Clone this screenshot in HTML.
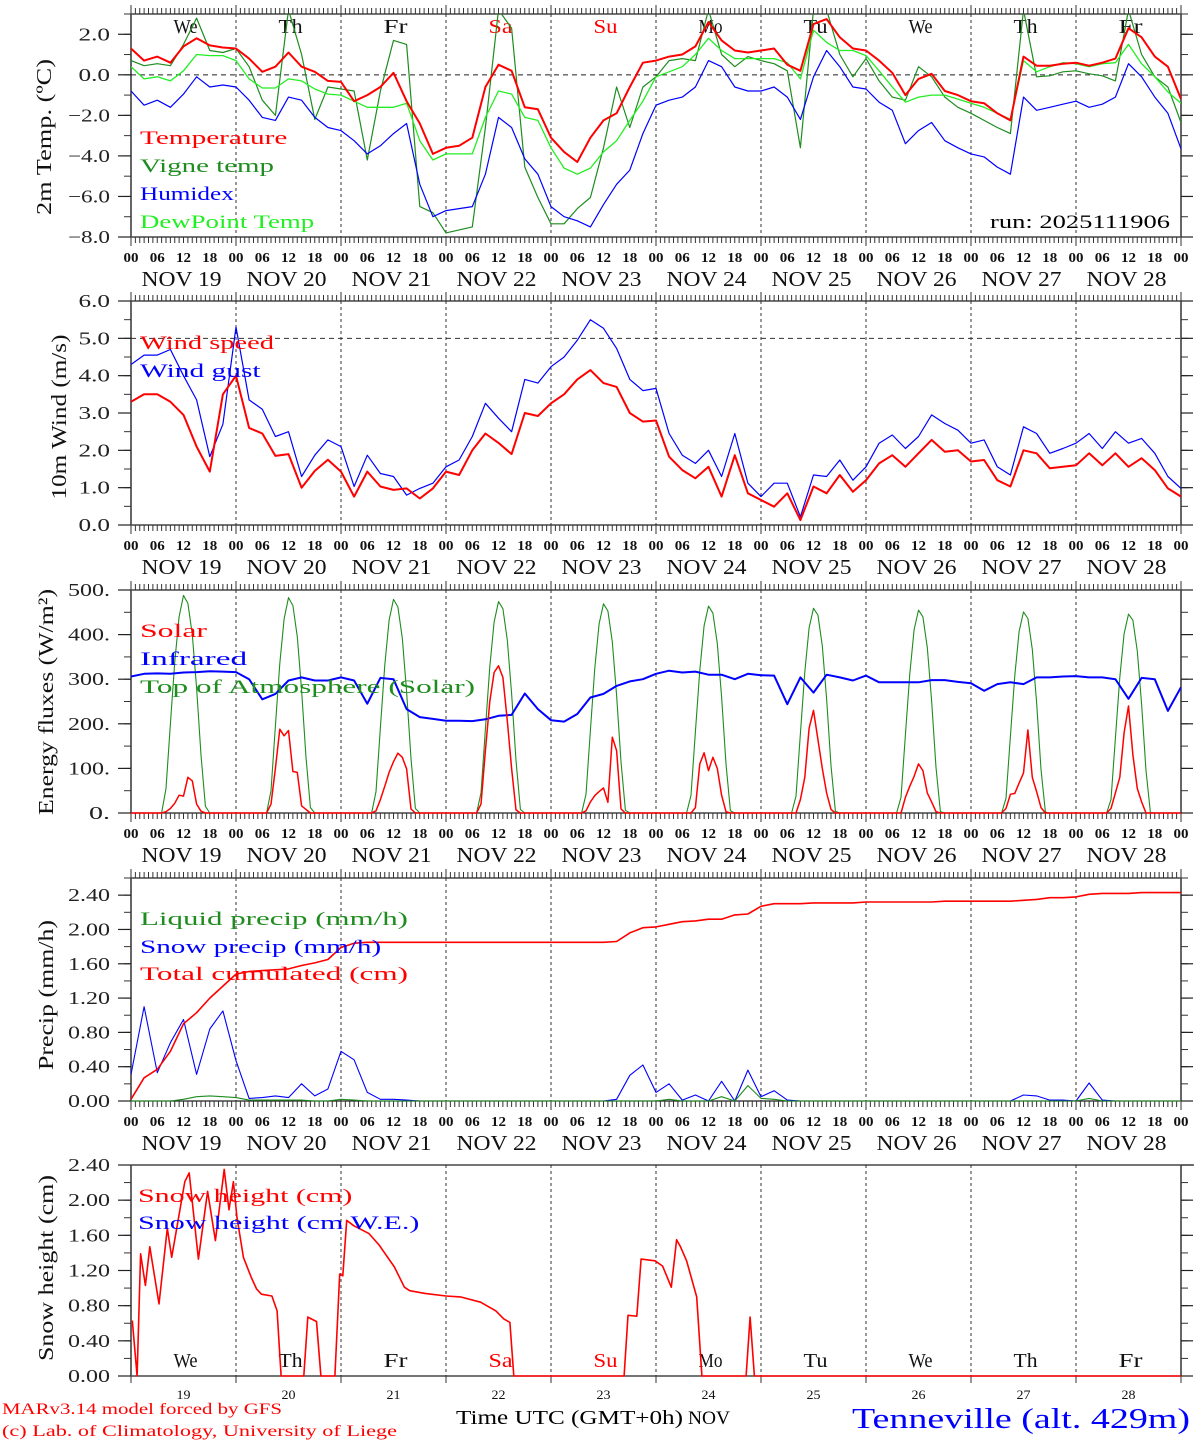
<!DOCTYPE html>
<html><head><meta charset="utf-8"><title>MAR forecast Tenneville</title>
<style>
html,body{margin:0;padding:0;background:#fff;}
svg{display:block;font-family:"Liberation Serif","DejaVu Serif",serif;}
</style></head>
<body>
<svg id="chart" xmlns="http://www.w3.org/2000/svg" width="1194" height="1440" viewBox="0 0 1194 1440">
<rect x="0" y="0" width="1194" height="1440" fill="#fff"/>
<text x="2" y="1414" font-size="16" fill="#ff0000" textLength="280" lengthAdjust="spacingAndGlyphs">MARv3.14 model forced by GFS</text>
<text x="2" y="1436" font-size="16" fill="#ff0000" textLength="395" lengthAdjust="spacingAndGlyphs">(c) Lab. of Climatology, University of Liege</text>
<text x="456" y="1424" font-size="20" fill="#000" textLength="227" lengthAdjust="spacingAndGlyphs">Time UTC (GMT+0h)</text>
<text x="688" y="1424" font-size="19" fill="#000" textLength="42" lengthAdjust="spacingAndGlyphs">NOV</text>
<text x="852" y="1428" font-size="28" fill="#0000ff" textLength="338" lengthAdjust="spacingAndGlyphs">Tenneville (alt. 429m)</text>
<text x="1170" y="228" font-size="19" fill="#000" text-anchor="end" textLength="180" lengthAdjust="spacingAndGlyphs">run: 2025111906</text>
</svg>
<script>
// ---------- DATA (3-hourly, index i -> hour 3*i from NOV 19 00UTC) ----------
const dayNames = ["We","Th","Fr","Sa","Su","Mo","Tu","We","Th","Fr"];
const dayNums = ["19","20","21","22","23","24","25","26","27","28"];
const tempTickVals = [-8,-6,-4,-2,0,2];
const tempTickLabels = ["\u22128.0","\u22126.0","\u22124.0","\u22122.0","0.0","2.0"];
const windTickVals = [0,1,2,3,4,5,6];
const windTickLabels = ["0.0","1.0","2.0","3.0","4.0","5.0","6.0"];
const energyTickVals = [0,100,200,300,400,500];
const energyTickLabels = ["0.","100.","200.","300.","400.","500."];
const precipTickVals = [0,0.4,0.8,1.2,1.6,2.0,2.4];
const precipTickLabels = ["0.00","0.40","0.80","1.20","1.60","2.00","2.40"];
const snowTickVals = [0,0.4,0.8,1.2,1.6,2.0,2.4];
const snowTickLabels = ["0.00","0.40","0.80","1.20","1.60","2.00","2.40"];

const temperature = [1.3,0.7,0.9,0.6,1.4,1.8,1.45,1.35, 1.3,0.8,0.15,0.4,1.1,0.4,0.15,-0.3, -0.35,-1.3,-1.0,-0.6,0.1,-1.3,-2.4,-3.9, -3.6,-3.5,-3.1,-0.6,0.5,0.2,-1.6,-1.7, -3.1,-3.8,-4.3,-3.1,-2.25,-1.9,-0.6,0.6, 0.7,0.9,1.0,1.4,2.6,1.7,1.2,1.1, 1.2,1.3,0.5,0.2,2.5,2.75,1.85,1.3, 1.2,0.7,0.1,-1.0,-0.2,0.05,-0.8,-1.0, -1.3,-1.4,-1.9,-2.25,0.9,0.45,0.45,0.55, 0.6,0.45,0.6,0.8,2.3,1.85,0.9,0.4, -1.2];
const vigneTemp = [0.7,0.45,0.55,0.45,1.5,2.8,1.2,1.1, 1.3,0.4,-1.25,-2.0,3.2,1.0,-2.2,-0.6, -0.7,-0.8,-4.2,-0.8,1.7,1.5,-6.5,-6.8, -7.8,-7.65,-7.5,-2.6,3.2,2.3,-4.55,-6.05, -7.35,-7.35,-6.6,-6.05,-3.6,-0.6,-2.6,-0.6, -0.1,0.7,0.8,0.7,3.2,1.0,0.4,0.9, 0.7,0.55,0.2,-3.6,3.2,3.2,1.0,-0.1, 0.8,-0.3,-1.1,-1.25,0.4,-0.1,-1.1,-1.6, -1.9,-2.25,-2.6,-2.9,3.2,-0.1,-0.05,0.15, 0.2,0.05,-0.05,-0.3,3.2,1.0,-0.1,-0.6, -2.35];
const humidex = [-0.8,-1.5,-1.25,-1.6,-0.95,-0.1,-0.6,-0.5, -0.6,-1.25,-2.1,-2.25,-1.1,-1.25,-2.1,-2.6, -2.75,-3.25,-3.9,-3.5,-2.9,-2.4,-5.4,-7.0, -6.7,-6.6,-6.5,-4.9,-2.1,-2.6,-4.15,-4.9, -6.5,-7.0,-7.2,-7.5,-6.4,-5.4,-4.7,-2.9, -1.5,-1.25,-1.1,-0.6,0.7,0.4,-0.6,-0.8, -0.8,-0.6,-1.1,-2.2,-0.1,1.2,0.4,-0.6, -0.7,-1.35,-1.75,-3.4,-2.75,-2.35,-3.25,-3.6, -3.9,-4.05,-4.55,-4.9,-1.1,-1.75,-1.6,-1.45, -1.3,-1.6,-1.45,-1.1,0.55,-0.1,-1.1,-1.9, -3.65];
const dewPoint = [0.4,-0.2,-0.1,-0.3,0.2,1.0,0.95,0.95, 0.7,-0.2,-0.65,-0.65,-0.2,-0.3,-0.7,-0.95, -1.0,-1.3,-1.6,-1.6,-1.6,-1.4,-3.25,-4.2, -3.9,-3.9,-3.9,-2.1,-0.8,-0.95,-2.1,-2.25, -3.6,-4.6,-4.9,-4.6,-3.8,-3.25,-2.25,-1.3, -0.1,0.15,0.4,1.0,1.8,1.2,0.8,0.8, 0.8,0.8,0.6,-0.2,2.2,1.6,1.2,1.2, 0.95,0.2,-0.6,-1.35,-1.1,-1.0,-1.0,-1.2, -1.4,-1.6,-1.9,-2.2,0.7,0.15,0.4,0.6, 0.55,0.4,0.55,0.6,1.5,0.55,-0.1,-0.85, -1.4];

const windSpeed = [3.3,3.5,3.5,3.3,2.95,2.1,1.43,3.5, 4.0,2.6,2.45,1.85,1.9,1.0,1.45,1.75, 1.43,0.76,1.43,1.03,0.94,0.98,0.71,0.98, 1.43,1.34,2.0,2.45,2.2,1.9,3.0,2.92, 3.26,3.5,3.9,4.15,3.8,3.7,3.0,2.77, 2.8,1.83,1.47,1.25,1.56,0.76,1.87,0.85, 0.67,0.49,0.85,0.13,1.03,0.85,1.34,0.89, 1.2,1.65,1.87,1.56,1.92,2.28,1.96,2.0, 1.7,1.74,1.2,1.03,2.0,1.92,1.52,1.56, 1.6,1.92,1.6,1.92,1.56,1.79,1.47,0.98, 0.76];
const windGust = [4.3,4.55,4.55,4.7,4.0,3.35,1.83,2.7, 5.3,3.35,3.1,2.37,2.5,1.3,1.87,2.28, 2.1,1.03,1.87,1.38,1.3,0.8,0.98,1.12, 1.56,1.74,2.37,3.26,2.86,2.5,3.9,3.8, 4.24,4.5,4.95,5.5,5.27,4.73,3.9,3.6, 3.66,2.45,1.87,1.65,2.0,1.3,2.45,1.12, 0.76,1.12,1.12,0.22,1.34,1.3,1.74,1.2, 1.56,2.19,2.41,2.05,2.37,2.95,2.72,2.54, 2.19,2.28,1.56,1.34,2.63,2.45,1.92,2.05, 2.19,2.45,2.05,2.5,2.19,2.32,1.92,1.3, 0.98];

const infrared = [306,312,313,312,315,316,318,317, 316,300,255,267,297,304,297,297, 304,297,245,303,300,233,215,211, 207,207,206,210,218,220,268,233, 208,205,222,259,267,285,295,300, 312,319,315,317,310,310,300,312, 309,308,244,304,270,310,304,297, 308,293,293,293,293,298,298,294, 291,274,289,293,289,304,304,306, 307,304,304,300,256,303,300,229, 282];
// hourly daytime values, hours 06..18 for each day
const solarDay = [
 [0,0,3,10,22,40,38,80,72,20,4,0,0],
 [0,0,20,100,188,173,185,93,91,16,8,0,0],
 [0,0,5,30,60,91,115,134,125,99,9,0,0],
 [0,0,20,140,250,315,330,304,207,100,7,0,0],
 [0,0,5,25,39,48,56,24,170,140,9,0,0],
 [0,0,0,12,110,135,95,125,100,40,3,0,0],
 [0,0,0,30,80,190,230,165,100,45,8,0,0],
 [0,0,0,35,60,82,110,95,45,25,3,0,0],
 [0,0,10,42,44,67,90,186,80,48,12,0,0],
 [0,0,10,45,80,180,240,130,55,25,0,0,0]];
const toaDay = [
 [0,0,55,200,340,440,488,470,400,280,130,15,0],
 [0,0,50,195,335,435,483,465,395,275,125,12,0],
 [0,0,48,192,332,432,479,462,392,272,122,10,0],
 [0,0,45,188,328,428,474,458,388,268,118,8,0],
 [0,0,42,185,325,424,469,453,384,264,115,6,0],
 [0,0,40,182,320,420,464,448,380,260,110,5,0],
 [0,0,38,178,316,415,459,444,375,256,106,4,0],
 [0,0,35,175,312,411,455,440,371,252,102,3,0],
 [0,0,33,172,308,407,451,436,367,248,98,2,0],
 [0,0,30,168,304,402,446,432,363,244,95,1,0]];

const liquidPrecip = [0,0,0,0,0.02,0.05,0.06,0.05, 0.04,0.01,0.01,0.01,0.01,0.01,0,0, 0.02,0.01,0,0,0,0,0,0, 0,0,0,0,0,0,0,0, 0,0,0,0,0,0,0,0, 0,0.02,0,0,0,0.05,0,0.18, 0.03,0.02,0,0,0,0,0,0, 0,0,0,0,0,0,0,0, 0,0,0,0,0,0,0,0, 0,0.03,0,0,0,0,0,0, 0];
const snowPrecip = [0.31,1.1,0.33,0.68,0.95,0.31,0.84,1.05, 0.47,0.03,0.04,0.06,0.04,0.2,0.06,0.14, 0.58,0.48,0.1,0.02,0.02,0.01,0,0, 0,0,0,0,0,0,0,0, 0,0,0,0,0,0.02,0.3,0.42, 0.1,0.2,0.01,0.07,0,0.23,0,0.36, 0.05,0.12,0.01,0,0,0,0,0, 0,0,0,0,0,0,0,0, 0,0,0,0,0.07,0.06,0.01,0.01, 0,0.21,0.01,0,0,0,0,0, 0];
const totalCumul = [0.02,0.27,0.37,0.58,0.9,1.03,1.2,1.34, 1.48,1.51,1.52,1.53,1.54,1.58,1.61,1.65, 1.79,1.84,1.85,1.85,1.85,1.85,1.85,1.85, 1.85,1.85,1.85,1.85,1.85,1.85,1.85,1.85, 1.85,1.85,1.85,1.85,1.85,1.86,1.96,2.02, 2.03,2.06,2.09,2.10,2.12,2.12,2.17,2.18, 2.27,2.30,2.30,2.30,2.31,2.31,2.31,2.31, 2.32,2.32,2.32,2.32,2.32,2.32,2.33,2.33, 2.33,2.33,2.33,2.33,2.34,2.35,2.37,2.37, 2.38,2.41,2.42,2.42,2.42,2.43,2.43,2.43, 2.43];

const snowHeightHours = [0.3,1.4,2.2,3.3,4.3,6.4,8.3,9.3,12.3,13.3,15.4,17.5,19.3,21.3,22.4,23.4, 24.2,25.7,27.5,28.7,29.8,32.2,33.4,34.3,39.5,40.4,42.4,43.4,46.6,47.7, 48.4,49.3,50.9,54.4,56.7,60.2,62.5,63.7,67.2,72,75.3,79.9,83.4,85.2,86.6,87.5, 112.7,113.6,115.6,116.6,119.8,121.5,123.5,124.7,125.6,127,129.3,130.5,140.6,141.5,142.5,240];
const snowHeight = [0.63,0,1.39,1.03,1.47,0.82,1.68,1.35,2.21,2.31,1.33,2.1,1.54,2.35,1.89,2.21, 1.81,1.35,1.12,0.99,0.93,0.91,0.74,0,0,0.67,0.62,0,0,1.16, 1.14,1.77,1.71,1.62,1.49,1.24,1.01,0.97,0.94,0.91,0.9,0.84,0.74,0.65,0.61,0, 0,0.69,0.68,1.33,1.31,1.25,1.01,1.55,1.47,1.31,0.9,0,0,0.67,0,0];

// ---------- DRAWING ----------
const NS = "http://www.w3.org/2000/svg";
const svg = document.getElementById("chart");
const X0 = 131, X1 = 1181, HOURS = 240;
function xS(h){ return X0 + h * (X1 - X0) / HOURS; }
const panels = [
  {key:"temp", top:14, bot:237, min:-8, max:3},
  {key:"wind", top:301, bot:525, min:0, max:6},
  {key:"energy", top:590, bot:813, min:0, max:500},
  {key:"precip", top:878, bot:1101, min:0, max:2.6},
  {key:"snow", top:1165, bot:1376, min:0, max:2.4}];
function yS(p, v){ return p.bot - (v - p.min) / (p.max - p.min) * (p.bot - p.top); }

function mk(tag, attrs, parent){
  const e = document.createElementNS(NS, tag);
  for (const k in attrs) e.setAttribute(k, attrs[k]);
  (parent || svg).appendChild(e);
  return e;
}
function line(x1,y1,x2,y2,stroke,w,parent,dash){
  const a = {x1:x1,y1:y1,x2:x2,y2:y2,stroke:stroke,"stroke-width":w};
  if (dash) a["stroke-dasharray"] = dash;
  return mk("line", a, parent);
}
function txt(x,y,s,size,fill,anchor,len,parent){
  const a = {x:x,y:y,"font-size":size,fill:fill};
  if (anchor) a["text-anchor"] = anchor;
  if (len){ a.textLength = len; a.lengthAdjust = "spacingAndGlyphs"; }
  const t = mk("text", a, parent);
  t.textContent = s;
  return t;
}

const defs = mk("defs", {});
panels.forEach((p,i)=>{
  const cp = mk("clipPath", {id:"clip"+i}, defs);
  mk("rect", {x:X0, y:p.top, width:X1-X0, height:p.bot-p.top+2}, cp);
});

function drawSeries(p, idx, vals, stepH, color, width, name){
  const g = mk("g", {"clip-path":"url(#clip"+idx+")"});
  let d = "";
  vals.forEach((v,i)=>{ d += (i ? "L" : "M") + xS(i*stepH).toFixed(1) + "," + yS(p, v).toFixed(1); });
  const path = mk("path", {d:d, fill:"none", stroke:color, "stroke-width":width, "stroke-linejoin":"round"}, g);
  
  
}
function drawXY(p, idx, hrs, vals, color, width, name){
  const g = mk("g", {"clip-path":"url(#clip"+idx+")"});
  let d = "";
  vals.forEach((v,i)=>{ d += (i ? "L" : "M") + xS(hrs[i]).toFixed(1) + "," + yS(p, v).toFixed(1); });
  const path = mk("path", {d:d, fill:"none", stroke:color, "stroke-width":width, "stroke-linejoin":"round"}, g);
  
  
}
function drawDaily(p, idx, days, color, width, name){
  const hrs = [], vals = [];
  days.forEach((arr, d)=>{
    for (let h = 0; h < 24; h++){
      hrs.push(d*24 + h);
      vals.push(h >= 6 && h <= 18 ? arr[h-6] : 0);
    }
  });
  hrs.push(240); vals.push(0);
  drawXY(p, idx, hrs, vals, color, width, name);
}

function drawFrame(p, idx, tickVals, tickLabels, minorStep, hourAxis){
  const g = mk("g", {});
  
  
  for (let d = 1; d < 10; d++){
    line(xS(d*24), p.top, xS(d*24), hourAxis ? p.bot : p.bot + 6, "#333", 1, g, "3,3");
  }
  line(X0, p.top, X1, p.top, "#222", 1.2, g);
  line(X0, p.bot, X1, p.bot, "#222", 1.2, g);
  line(X0, p.top, X0, p.bot, "#555", 1.8, g);
  line(X1, p.top, X1, p.bot, "#555", 1.8, g);
  if (!hourAxis) line(X1, p.top, 1194, p.top, "#222", 1.2, g);
  for (let v = p.min; v <= p.max + 1e-9; v += minorStep){
    const y = yS(p, v);
    line(X0-7, y, X0, y, "#333", 1, g);
    line(X1, y, X1+7, y, "#333", 1, g);
  }
  tickVals.forEach((v,i)=>{
    const y = yS(p, v);
    line(X0-13, y, X0, y, "#222", 1.2, g);
    line(X1, y, X1+12, y, "#222", 1.2, g);
    const t = txt(110, y+6, tickLabels[i], 18, "#222", "end", tickLabels[i].length*10.5, g);
    
    
  });
  if (hourAxis){
    for (let h = 0; h <= HOURS; h++){
      const x = xS(h);
      const L = (h % 24 === 0) ? 9 : 6;
      line(x, p.top-L, x, p.top, "#333", 1, g);
      line(x, p.bot, x, p.bot+L, "#333", 1, g);
    }
    for (let d = 0; d <= 10; d++){
      const hs = d < 10 ? [0,6,12,18] : [0];
      hs.forEach(h=>{
        const lab = (h < 10 ? "0" : "") + h;
        const t = txt(xS(d*24+h), p.bot+25, lab, 14, "#111", "middle", 15, g);
        t.setAttribute("font-weight", "bold");
        
        
      });
    }
    dayNums.forEach((n,d)=>{
      const t = txt(xS(d*24+12)-2, p.bot+49, "NOV " + n, 21, "#111", "middle", 80, g);
      
      
    });
  } else {
    for (let d = 0; d <= 10; d++) line(xS(d*24), p.bot, xS(d*24), p.bot+7, "#333", 1, g);
  }
}
function legend(x, y, s, color, name){
  const t = txt(x, y, s, 19, color, null, s.length*13.4);
  
  
}
function yTitle(cx, cy, s, len, name){
  const t = txt(0, 0, s, 21, "#111", "middle", len);
  t.setAttribute("transform", "translate(" + cx + "," + cy + ") rotate(-90)");
  
  
}

// ----- Panel 1: temperature -----
const P1 = panels[0];
drawFrame(P1, 0, tempTickVals, tempTickLabels, 1, true);
line(X0, yS(P1,0), X1, yS(P1,0), "#222", 1, svg, "5,4");
dayNames.forEach((n,d)=>{
  const t = txt(xS(d*24+12)+2, 33, n, 20, (n === "Sa" || n === "Su") ? "#ff0000" : "#111", "middle", n.length*12);
  
  
});
drawSeries(P1, 0, vigneTemp, 3, "#1e8c1e", 1.2, "vigne-temp-line");
drawSeries(P1, 0, dewPoint, 3, "#22ee22", 1.3, "dewpoint-line");
drawSeries(P1, 0, humidex, 3, "#0000ff", 1.2, "humidex-line");
drawSeries(P1, 0, temperature, 3, "#ff0000", 2, "temperature-line");
legend(140, 144, "Temperature", "#ff0000", "legend-temperature");
legend(140, 172, "Vigne temp", "#1e8c1e", "legend-vigne-temp");
legend(140, 200, "Humidex", "#0000ff", "legend-humidex");
legend(140, 228, "DewPoint Temp", "#22ee22", "legend-dewpoint");
yTitle(51, 137, "2m Temp. (\u00baC)", 156, "temp-y-axis-title");

// ----- Panel 2: wind -----
const P2 = panels[1];
drawFrame(P2, 1, windTickVals, windTickLabels, 0.5, true);
line(X0, yS(P2,5), X1, yS(P2,5), "#333", 1, svg, "5,4");
drawSeries(P2, 1, windGust, 3, "#0000ff", 1.2, "wind-gust-line");
drawSeries(P2, 1, windSpeed, 3, "#ff0000", 2, "wind-speed-line");
legend(140, 349, "Wind speed", "#ff0000", "legend-wind-speed");
legend(140, 377, "Wind gust", "#0000ff", "legend-wind-gust");
yTitle(66, 417, "10m Wind (m/s)", 165, "wind-y-axis-title");

// ----- Panel 3: energy -----
const P3 = panels[2];
drawFrame(P3, 2, energyTickVals, energyTickLabels, 50, true);
drawDaily(P3, 2, toaDay, "#1e8c1e", 1.1, "toa-solar-line");
drawSeries(P3, 2, infrared, 3, "#0000ff", 2, "infrared-line");
drawDaily(P3, 2, solarDay, "#ff0000", 1.5, "solar-line");
legend(140, 637, "Solar", "#ff0000", "legend-solar");
legend(140, 665, "Infrared", "#0000ff", "legend-infrared");
legend(140, 693, "Top of Atmosphere (Solar)", "#1e8c1e", "legend-toa");
yTitle(53, 702, "Energy fluxes (W/m\u00b2)", 226, "energy-y-axis-title");

// ----- Panel 4: precip -----
const P4 = panels[3];
drawFrame(P4, 3, precipTickVals, precipTickLabels, 0.2, true);
drawSeries(P4, 3, snowPrecip, 3, "#0000ff", 1.1, "snow-precip-line");
drawSeries(P4, 3, liquidPrecip, 3, "#1e8c1e", 1.1, "liquid-precip-line");
drawSeries(P4, 3, totalCumul, 3, "#ff0000", 1.6, "total-cumulated-line");
legend(140, 925, "Liquid precip (mm/h)", "#1e8c1e", "legend-liquid-precip");
legend(140, 953, "Snow precip (mm/h)", "#0000ff", "legend-snow-precip");
legend(140, 980, "Total cumulated (cm)", "#ff0000", "legend-total-cumulated");
yTitle(53, 995, "Precip (mm/h)", 150, "precip-y-axis-title");

// ----- Panel 5: snow height -----
const P5 = panels[4];
drawFrame(P5, 4, snowTickVals, snowTickLabels, 0.2, false);
dayNames.forEach((n,d)=>{
  const t = txt(xS(d*24+12)+2, 1367, n, 20, (n === "Sa" || n === "Su") ? "#ff0000" : "#111", "middle", n.length*12);
  
  
});
dayNums.forEach((n,d)=>{
  const t = txt(xS(d*24+12), 1399, n, 13, "#111", "middle", 14);
  
  
});
drawXY(P5, 4, snowHeightHours, snowHeight, "#ff0000", 1.6, "snow-height-line");
legend(138, 1202, "Snow height (cm)", "#ff0000", "legend-snow-height");
legend(138, 1229, "Snow height (cm W.E.)", "#0000ff", "legend-snow-height-we");
yTitle(53, 1268, "Snow height (cm)", 186, "snow-y-axis-title");
</script>
</body></html>
